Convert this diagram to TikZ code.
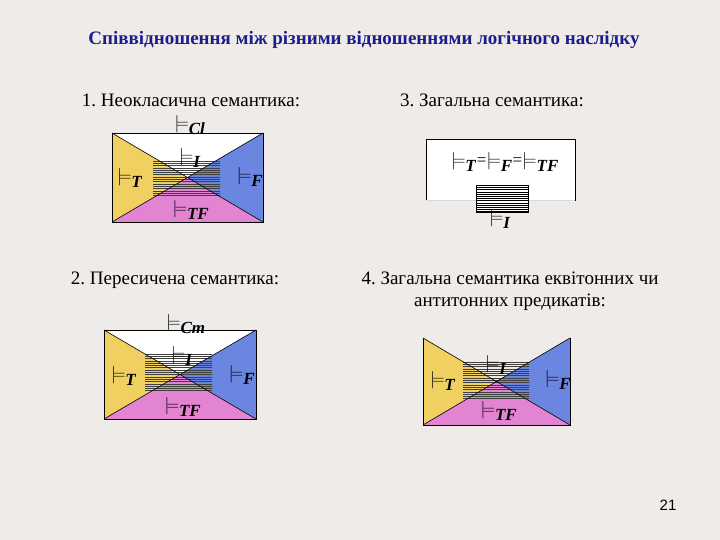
\documentclass[tikz,border=0pt]{standalone}
\usepackage{fontspec}
\setmainfont{Liberation Serif}
\newfontfamily\sansf{Liberation Sans}
\definecolor{bg}{HTML}{EEEBE8}
\definecolor{ye}{HTML}{F0D060}
\definecolor{bl}{HTML}{6A86E0}
\definecolor{pk}{HTML}{E284D2}
\definecolor{ttl}{HTML}{1C1C8C}
\newcommand\sub[1]{\ensuremath{_{\textbf{\textit{#1}}}}}
\newcommand\mo{\ensuremath{\models}}
\newcommand\bowdraw[5]{%
  \path #1 coordinate (A) #2 coordinate (C);
  \coordinate (B) at (A -| C); \coordinate (D) at (C -| A);
  \coordinate (M) at ($(A)!0.5!(C)$);
  \ifx#5n\else\fill[white] (A)--(B)--(M)--cycle;\fi
  \fill[ye] (A)--(D)--(M)--cycle;
  \fill[bl] (B)--(C)--(M)--cycle;
  \fill[pk] (D)--(C)--(M)--cycle;
  \begin{scope}
    \clip #3 rectangle #4;
    \foreach \k in {0,...,30}{\draw[line width=0.7pt,black!75] ($#3+(0,\k*2.3+1)$) -- ++(200,0);}
  \end{scope}
  \draw[line width=0.6pt] (A)--(C) (B)--(D);
  \ifx#5n\draw[line width=0.8pt] (A)--(D)--(C)--(B);\else\draw[line width=0.8pt] (A) rectangle (C);\fi
}
\usetikzlibrary{calc}
\begin{document}
\frenchspacing
\begin{tikzpicture}[x=1pt,y=-1pt,font=\fontsize{19}{22}\selectfont\frenchspacing,lbl/.style={inner sep=0pt,font=\fontsize{17}{19}\selectfont}]
\useasboundingbox (0,0) rectangle (720,540);
\fill[bg] (0,0) rectangle (720,540);
\node[font=\fontsize{19}{21}\selectfont\bfseries,text=ttl] (title) at (364,40) {Співвідношення між різними відношеннями логічного наслідку};
\node (h1) at (191,100) {1. Неокласична семантика:};
\node (h3) at (492,100) {3. Загальна семантика:};
\node (h2) at (175,280) {2. Пересичена семантика:};
\node[align=center] (h4) at (510,291) {4. Загальна семантика еквітонних чи\\антитонних предикатів:};
\node[font=\sansf\fontsize{15}{17}\selectfont] (pg) at (668,505) {21};
% diagram 1
\bowdraw{(112,133)}{(263,222)}{(153,160)}{(220,196)}{w}
\node[lbl] (c1) at (190,125) {\mo\sub{Cl}};
\node[lbl] (t1) at (130,178) {\mo\sub{T}};
\node[lbl] (f1) at (250,177) {\mo\sub{F}};
\node[lbl] (tf1) at (191,210) {\mo\sub{TF}};
\node[lbl] (i1) at (190,158) {\mo\sub{I}};
% diagram 2
\bowdraw{(104,330)}{(256,419)}{(145,353)}{(212,391)}{w}
\node[lbl] (c2) at (186,324) {\mo\sub{Cm}};
\node[lbl] (t2) at (124,376) {\mo\sub{T}};
\node[lbl] (f2) at (242,375) {\mo\sub{F}};
\node[lbl] (tf2) at (183,407) {\mo\sub{TF}};
\node[lbl] (i2) at (182,356) {\mo\sub{I}};
% diagram 4
\bowdraw{(423,338)}{(570,425)}{(463,361)}{(529,400)}{n}
\node[lbl] (t4) at (443,381) {\mo\sub{T}};
\node[lbl] (f4) at (558,380) {\mo\sub{F}};
\node[lbl] (tf4) at (499,411) {\mo\sub{TF}};
\node[lbl] (i4) at (496,365) {\mo\sub{I}};
% diagram 3
\fill[white] (426,139) rectangle (575,201);
\draw[line width=0.8pt] (426,201)--(426,139)--(575,139)--(575,201);
\draw[gray!30,line width=1pt] (426,201)--(575,201);
\node[lbl] (e3) at (505,162) {\mo\sub{T}=\mo\sub{F}=\mo\sub{TF}};
\fill[white] (476,185) rectangle (528,212);
\begin{scope}\clip (476,185) rectangle (528,212);
\foreach \k in {0,...,12}{\draw[line width=0.8pt] (476,185+\k*2.2+0.5) -- ++(60,0);}
\end{scope}
\draw[line width=0.8pt] (476,185) rectangle (528,212);
\node[lbl] (i3) at (500,219) {\mo\sub{I}};
\end{tikzpicture}
\end{document}
